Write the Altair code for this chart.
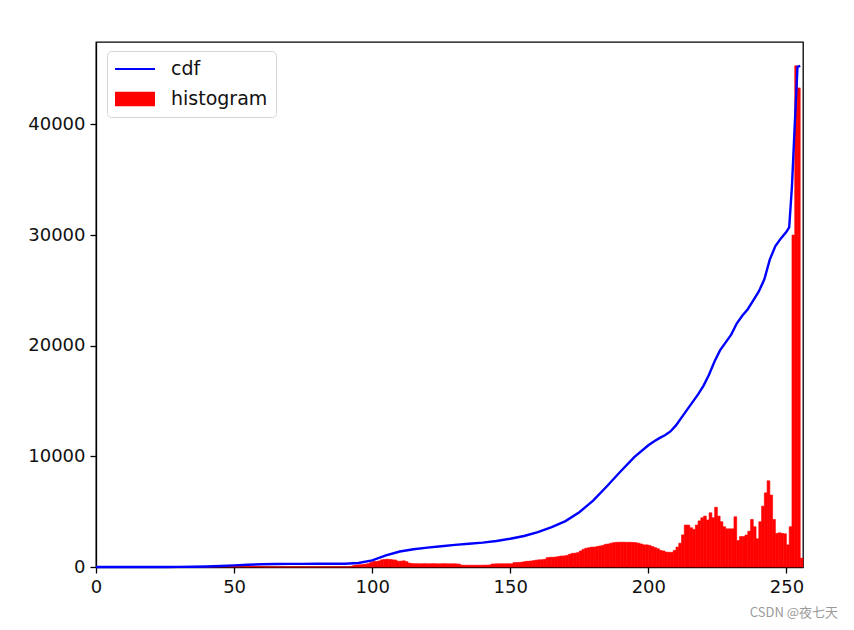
import altair as alt
import pandas as pd

# ---------------- data ----------------
hist_counts = [
    0, 0, 0, 0, 0, 0, 0, 0, 0, 0, 0, 0, 0, 0, 0, 0,
    0, 0, 0, 0, 0, 0, 0, 0, 0, 0, 0, 0, 0, 0, 0, 0,
    0, 0, 0, 0, 10, 15, 20, 25, 30, 35, 40, 45, 50, 55, 60, 65,
    70, 70, 70, 70, 65, 60, 55, 50, 45, 40, 35, 30, 25, 20, 15, 10,
    10, 5, 5, 5, 5, 5, 5, 5, 5, 5, 5, 5, 5, 5, 5, 5,
    5, 5, 5, 5, 5, 5, 5, 5, 5, 5, 5, 5, 60, 150, 180, 200,
    220, 250, 300, 400, 500, 500, 550, 650, 680, 700, 680, 650, 620, 520, 530, 560,
    480, 350, 310, 300, 300, 290, 300, 300, 290, 300, 300, 290, 290, 300, 300, 290,
    290, 290, 280, 260, 170, 160, 160, 160, 160, 160, 160, 160, 170, 170, 180, 270,
    280, 290, 290, 290, 290, 300, 290, 400, 400, 420, 450, 500, 520, 540, 580, 620,
    650, 660, 700, 850, 870, 880, 900, 950, 990, 1000, 1050, 1150, 1230, 1250, 1300, 1450,
    1600, 1700, 1740, 1800, 1800, 1850, 1900, 1950, 2050, 2080, 2150, 2200, 2230, 2240, 2240, 2240,
    2230, 2230, 2220, 2200, 2150, 2080, 2000, 2000, 1950, 1850, 1750, 1650, 1500, 1450, 1350, 1330,
    1330, 1500, 1800, 2150, 2900, 3790, 3790, 3550, 3400, 3790, 4170, 4450, 4600, 4250, 4900, 4450,
    5400, 4600, 4090, 3640, 3450, 3450, 3450, 4540, 2390, 2750, 2750, 2890, 3230, 4300, 3640, 2550,
    4090, 5500, 6700, 7790, 6500, 4300, 3040, 3090, 3040, 3000, 2000, 3640, 30000, 45300, 43300, 800,
]

cdf_x = [0, 5, 10, 15, 20, 25, 30, 35, 40, 45, 50, 55, 60, 65, 70, 75, 80, 85, 90, 95,
         100, 105, 110, 115, 120, 125, 130, 135, 140, 145, 150, 155, 160, 165, 170, 175,
         180, 185, 190, 195, 200, 202, 204, 206, 208, 210, 212, 214, 216, 218, 220,
         222, 224, 226, 228, 230, 232, 234, 236, 238, 240, 242, 244, 246, 248, 250,
         251, 252, 253, 254, 255]
cdf_y = [0, 0, 0, 0, 0, 5, 10, 20, 50, 90, 150, 200, 250, 270, 280, 285, 290, 295, 300, 360,
         600, 1050, 1400, 1600, 1750, 1880, 2000, 2100, 2200, 2350, 2550, 2800, 3150, 3600, 4150, 4950,
         6000, 7300, 8650, 9950, 11000, 11350, 11650, 11900, 12250, 12800, 13500, 14200, 14900, 15600, 16400,
         17400, 18600, 19600, 20300, 21000, 22000, 22700, 23300, 24100, 24900, 26000, 27800, 29000, 29700, 30300,
         30700, 34400, 39900, 45200, 45300]

series_names = ["cdf", "histogram"]
series_colors = ["#0000ff", "#ff0000"]
x_ticks = [0, 50, 100, 150, 200, 250]
y_ticks = [0, 10000, 20000, 30000, 40000]
watermark = ["CSDN @夜七天"]

# ---------------- tables ----------------
hist_df = pd.DataFrame({"bin": list(range(len(hist_counts))), "count": hist_counts})
hist_df["bin_end"] = hist_df["bin"] + 1
hist_df["base"] = 0
cdf_df = pd.DataFrame({"x": cdf_x, "cdf": cdf_y})
legend_df = pd.DataFrame({"series": series_names})
wm_df = pd.DataFrame({"t": watermark})

FONT = "DejaVu Sans"
FS = 18

x_scale = alt.Scale(domain=[0, 256], nice=False, zero=False)
y_scale = alt.Scale(domain=[0, 47450], nice=False, zero=True)

x_axis = alt.Axis(values=x_ticks, title=None, grid=False, labelFont=FONT, labelFontSize=FS,
                  labelColor="#111111", domainColor="black", tickColor="black", tickSize=6,
                  tickWidth=1.3, domainWidth=1.3, labelPadding=5, labelFlush=False)
y_axis = alt.Axis(values=y_ticks, title=None, grid=False, labelFont=FONT, labelFontSize=FS,
                  labelColor="#111111", domainColor="black", tickColor="black", tickSize=6,
                  tickWidth=1.3, domainWidth=1.3, labelPadding=5, format="d", labelFlush=False)

bars = alt.Chart(hist_df).mark_rect(color="#ff0000", stroke="#ff0000", strokeWidth=0.6).encode(
    x=alt.X("bin:Q", scale=x_scale, axis=x_axis, title=None),
    x2="bin_end:Q",
    y=alt.Y("count:Q", scale=y_scale, axis=y_axis, title=None),
    y2="base:Q",
)

line = alt.Chart(cdf_df).mark_line(color="#0000ff", strokeWidth=2.4).encode(
    x=alt.X("x:Q", scale=x_scale, axis=x_axis, title=None),
    y=alt.Y("cdf:Q", scale=y_scale, axis=y_axis, title=None),
)

line_path = "M-1,-0.045L1,-0.045L1,0.045L-1,0.045Z"
patch_path = "M-1,-0.36L1,-0.36L1,0.36L-1,0.36Z"

leg = alt.Legend(title=None, orient="none", legendX=11, legendY=9, symbolSize=1600,
                 symbolStrokeWidth=0, labelFont=FONT, labelFontSize=19, labelColor="#111111",
                 padding=8, strokeColor="#d5d5d5", fillColor="white", cornerRadius=4,
                 clipHeight=20, rowPadding=10, labelOffset=16)

legend_layer = alt.Chart(legend_df).transform_filter("false").mark_point(filled=True, opacity=1).encode(
    color=alt.Color("series:N", scale=alt.Scale(domain=series_names, range=series_colors), legend=leg),
    shape=alt.Shape("series:N", scale=alt.Scale(domain=series_names, range=[line_path, patch_path]), legend=leg),
)

wm = alt.Chart(wm_df).mark_text(font="Noto Sans CJK SC", fontSize=13, color="#9a9a9a",
                                align="right", baseline="middle").encode(
    x=alt.value(742), y=alt.value(571), text="t:N"
)

chart = alt.layer(bars, line, legend_layer, wm).properties(
    width=707, height=525,
    autosize=alt.AutoSizeParams(type="none"),
    padding={"left": 96, "top": 42, "right": 51, "bottom": 63},
    background="white",
).configure_view(stroke="black", strokeWidth=1.3)

chart.save("out.html", embed_options={"renderer": "svg", "actions": False})
